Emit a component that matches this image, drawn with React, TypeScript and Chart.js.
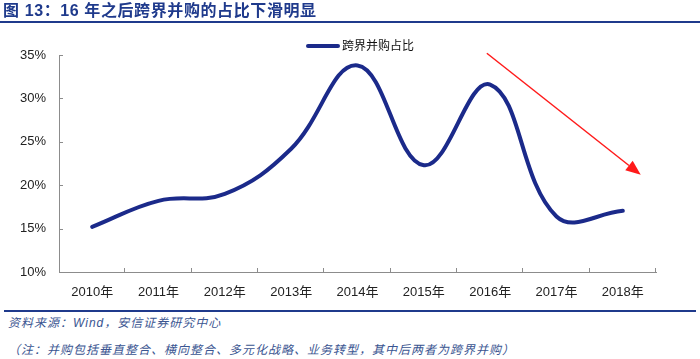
import React, { useEffect, useRef } from "react";
import { Chart, registerables } from "chart.js";

Chart.register(...registerables);

const categories = ["2010年", "2011年", "2012年", "2013年", "2014年", "2015年", "2016年", "2017年", "2018年"];
const shareValues = [15.2, 18.2, 19.0, 24.2, 33.8, 22.3, 31.6, 16.4, 17.05];
const yTickValues = [10, 15, 20, 25, 30, 35];
const seriesName = "跨界并购占比";
const titleText = "图 13：16 年之后跨界并购的占比下滑明显";
const sourceText = "资料来源：Wind，安信证券研究中心";
const noteText = "（注：并购包括垂直整合、横向整合、多元化战略、业务转型，其中后两者为跨界并购）";
// trend arrow annotation, in data units (category index, percent)
const arrowFrom = { x: 5.95, y: 35.2 };
const arrowTo = { x: 8.27, y: 21.2 };

const lineColor = "#1b2a8a";
const axisColor = "#8c8c8c";
const textColor = "#222222";
const titleColor = "#1f3a8c";
const footColor = "#3a5591";
const fontFamily = "'Liberation Sans', Arial, 'Noto Sans CJK SC', sans-serif";
const cjkFamily = "'Liberation Sans', 'Noto Sans CJK SC', sans-serif";

const innerTicks = {
  id: "innerTicks",
  afterDraw(chart: any) {
    const { ctx, chartArea, scales } = chart;
    const xs = scales.x;
    const ys = scales.y;
    ctx.save();
    ctx.strokeStyle = axisColor;
    ctx.lineWidth = 1;
    ctx.beginPath();
    const n = categories.length;
    for (let i = 1; i <= n; i++) {
      const px = Math.round(xs.left + (xs.width * i) / n) - 0.5;
      ctx.moveTo(px, chartArea.bottom);
      ctx.lineTo(px, chartArea.bottom - 4);
    }
    yTickValues.forEach((v) => {
      const py = Math.round(ys.getPixelForValue(v)) + 0.5;
      ctx.moveTo(chartArea.left, py);
      ctx.lineTo(chartArea.left + 4, py);
    });
    ctx.stroke();
    ctx.restore();
  },
};

const trendArrow = {
  id: "trendArrow",
  afterDatasetsDraw(chart: any) {
    const { ctx, scales } = chart;
    const x1 = scales.x.getPixelForValue(arrowFrom.x);
    const y1 = scales.y.getPixelForValue(arrowFrom.y);
    const x2 = scales.x.getPixelForValue(arrowTo.x);
    const y2 = scales.y.getPixelForValue(arrowTo.y);
    const ang = Math.atan2(y2 - y1, x2 - x1);
    const headLen = 15;
    const headW = 6;
    const bx = x2 - headLen * Math.cos(ang);
    const by = y2 - headLen * Math.sin(ang);
    ctx.save();
    ctx.strokeStyle = "#ff1a1a";
    ctx.fillStyle = "#ff1a1a";
    ctx.lineWidth = 1.5;
    ctx.beginPath();
    ctx.moveTo(x1, y1);
    ctx.lineTo(bx, by);
    ctx.stroke();
    ctx.beginPath();
    ctx.moveTo(x2, y2);
    ctx.lineTo(bx + headW * Math.sin(ang), by - headW * Math.cos(ang));
    ctx.lineTo(bx - headW * Math.sin(ang), by + headW * Math.cos(ang));
    ctx.closePath();
    ctx.fill();
    ctx.restore();
  },
};

export default function App() {
  const canvasRef = useRef<HTMLCanvasElement | null>(null);

  useEffect(() => {
    const canvas = canvasRef.current;
    if (!canvas) return;
    const chart = new Chart(canvas, {
      type: "line",
      data: {
        labels: categories,
        datasets: [
          {
            label: seriesName,
            data: shareValues,
            borderColor: lineColor,
            borderWidth: 4,
            tension: 0.4,
            pointRadius: 0,
            borderCapStyle: "round",
            fill: false,
          },
        ],
      },
      options: {
        animation: false,
        responsive: false,
        maintainAspectRatio: false,
        layout: { padding: { top: 55, right: 44, bottom: 8, left: 0 } },
        plugins: {
          legend: { display: false },
          tooltip: { enabled: false },
        },
        scales: {
          x: {
            offset: true,
            grid: { drawOnChartArea: false, drawTicks: false },
            border: { display: true, color: axisColor, width: 1 },
            ticks: {
              color: textColor,
              padding: 13,
              maxRotation: 0,
              autoSkip: false,
              font: { family: fontFamily, size: 13 },
            },
            afterFit(scale: any) {
              scale.height = 30;
            },
          },
          y: {
            min: 10,
            max: 35,
            grid: { drawOnChartArea: false, drawTicks: false },
            border: { display: true, color: axisColor, width: 1 },
            afterBuildTicks(scale: any) {
              scale.ticks = yTickValues.map((v) => ({ value: v }));
            },
            ticks: {
              color: textColor,
              padding: 13,
              font: { family: fontFamily, size: 13 },
              callback: (v: any) => v + "%",
            },
            afterFit(scale: any) {
              scale.width = 59;
            },
          },
        },
      },
      plugins: [innerTicks, trendArrow],
    });
    return () => chart.destroy();
  }, []);

  return (
    <div style={{ position: "absolute", left: 0, top: 0, width: 700, height: 359, background: "#fff", overflow: "hidden" }}>
      <canvas ref={canvasRef} width={700} height={310} style={{ position: "absolute", left: 0, top: 0, width: 700, height: 310 }} />
      <div
        style={{
          position: "absolute",
          left: 3,
          top: 1,
          fontFamily: cjkFamily,
          fontWeight: "bold",
          fontSize: 16,
          letterSpacing: 0.6,
          color: titleColor,
          whiteSpace: "nowrap",
          lineHeight: "20px",
        }}
      >
        {titleText}
      </div>
      <div style={{ position: "absolute", left: 0, top: 21, width: 700, height: 2, background: titleColor }} />
      <div style={{ position: "absolute", left: 306, top: 44, width: 34, height: 4, background: lineColor, borderRadius: 2 }} />
      <div
        style={{
          position: "absolute",
          left: 342,
          top: 38,
          fontFamily: cjkFamily,
          fontSize: 12,
          color: "#111",
          lineHeight: "16px",
          whiteSpace: "nowrap",
        }}
      >
        {seriesName}
      </div>
      <div style={{ position: "absolute", left: 4, top: 310, width: 692, height: 2, background: titleColor }} />
      <div
        style={{
          position: "absolute",
          left: 8,
          top: 315,
          fontFamily: cjkFamily,
          fontStyle: "italic",
          fontSize: 12,
          letterSpacing: 1,
          color: footColor,
          whiteSpace: "nowrap",
          lineHeight: "16px",
        }}
      >
        {sourceText}
      </div>
      <div
        style={{
          position: "absolute",
          left: 8,
          top: 342,
          fontFamily: cjkFamily,
          fontStyle: "italic",
          fontSize: 12,
          letterSpacing: 1,
          color: footColor,
          whiteSpace: "nowrap",
          lineHeight: "16px",
        }}
      >
        {noteText}
      </div>
    </div>
  );
}
